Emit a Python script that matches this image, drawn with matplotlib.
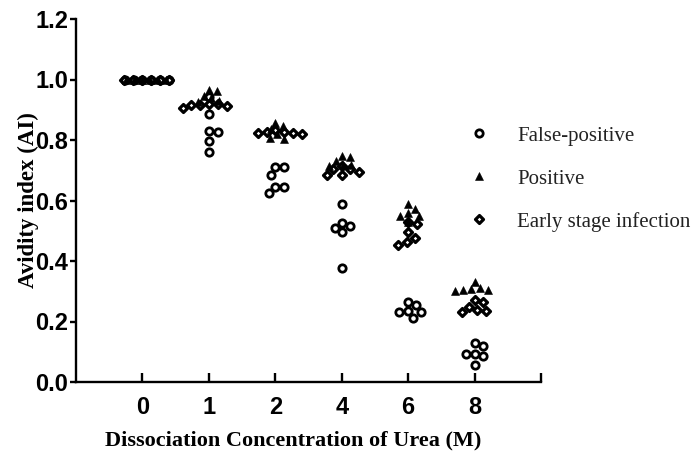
import numpy as np
import matplotlib
matplotlib.use('Agg')
import matplotlib.pyplot as plt
from matplotlib.lines import Line2D
from matplotlib.markers import MarkerStyle
from matplotlib.ticker import FormatStrFormatter

# ---------------- data ----------------
categories = ['0', '1', '2', '4', '6', '8']
false_positive = [
    [1.0, 1.0, 1.0, 1.0, 1.0, 1.0],
    [0.943, 0.886, 0.830, 0.828, 0.798, 0.760],
    [0.710, 0.685, 0.710, 0.645, 0.625, 0.645],
    [0.588, 0.526, 0.509, 0.496, 0.517, 0.377],
    [0.265, 0.255, 0.235, 0.210, 0.230, 0.230],
    [0.128, 0.120, 0.093, 0.093, 0.087, 0.056],
]
positive = [
    [1.0, 1.0, 1.0, 1.0, 1.0, 1.0],
    [0.965, 0.962, 0.945, 0.940, 0.930, 0.925],
    [0.857, 0.846, 0.835, 0.820, 0.807, 0.803],
    [0.747, 0.745, 0.730, 0.717, 0.717, 0.714],
    [0.588, 0.572, 0.559, 0.550, 0.550, 0.529],
    [0.330, 0.312, 0.307, 0.304, 0.304, 0.300],
]
early_stage = [
    [1.0, 1.0, 1.0, 1.0, 1.0, 1.0],
    [0.920, 0.919, 0.916, 0.916, 0.912, 0.905],
    [0.833, 0.826, 0.826, 0.823, 0.823, 0.820],
    [0.715, 0.704, 0.704, 0.694, 0.684, 0.684],
    [0.530, 0.522, 0.497, 0.477, 0.464, 0.453],
    [0.271, 0.265, 0.249, 0.238, 0.235, 0.230],
]
series_labels = ['False-positive', 'Positive', 'Early stage infection']
y_ticks = [0.0, 0.2, 0.4, 0.6, 0.8, 1.0, 1.2]

# ---------------- figure ----------------
W, H = 695, 455
fig = plt.figure(figsize=(W / 100, H / 100), dpi=100)
ax = fig.add_axes([76 / W, 1 - 382 / H, (541 - 76) / W, (382 - 19) / H])
ax.set_xlim(0, 7)
ax.set_ylim(0, 1.2)

positions = np.arange(1, len(categories) + 1)
fig.canvas.draw()


def swarm(values, xc, diam):
    pts = ax.transData.transform([(xc, v) for v in values])
    ys = pts[:, 1]
    ppx = ax.transData.transform([(1, 0)])[0, 0] - ax.transData.transform([(0, 0)])[0, 0]
    order = np.argsort(-np.asarray(values), kind='stable')
    placed = []
    dxs = np.zeros(len(values))
    for i in order:
        y = ys[i]
        cands = [0.0]
        for (px, py) in placed:
            dy = abs(py - y)
            if dy < diam:
                h = np.sqrt(diam ** 2 - dy ** 2)
                cands += [px + h, px - h]
        cands.sort(key=lambda c: (round(abs(c), 6), -c))
        for c in cands:
            if all((c - px) ** 2 + (y - py) ** 2 >= diam ** 2 - 1e-6 for px, py in placed):
                dxs[i] = c
                break
        placed.append((dxs[i], y))
    return xc + dxs / ppx


styles = [
    dict(marker='o', markersize=5.3, markerfacecolor='none', markeredgecolor='black',
         markeredgewidth=2.0, diam=8.8),
    dict(marker='^', markersize=5.4, markerfacecolor='black', markeredgecolor='black',
         markeredgewidth=0.4, diam=8.0),
    dict(marker=MarkerStyle('D', joinstyle='round'), markersize=3.7, markerfacecolor='none',
         markeredgecolor='black', markeredgewidth=2.3, diam=9.0),
]
all_series = [false_positive, positive, early_stage]

for data, st in zip(all_series, styles):
    st = dict(st)
    diam = st.pop('diam')
    for xc, vals in zip(positions, data):
        xs = swarm(vals, xc, diam)
        ax.plot(xs, vals, linestyle='none', clip_on=False, zorder=3, **st)

# ---------------- axes styling ----------------
for s in ['top', 'right']:
    ax.spines[s].set_visible(False)
for s in ['left', 'bottom']:
    ax.spines[s].set_linewidth(1.7)

ax.set_yticks(y_ticks)
ax.yaxis.set_major_formatter(FormatStrFormatter('%.1f'))
ax.set_xticks(list(positions) + [7])
ax.set_xticklabels(categories + [''])

for lab in ax.get_yticklabels() + ax.get_xticklabels():
    lab.set_fontfamily('Liberation Sans')
    lab.set_fontweight('bold')
    lab.set_fontsize(17)

ax.tick_params(axis='y', direction='out', length=4.5, width=1.7, pad=1)
ax.tick_params(axis='x', direction='in', length=6.5, width=1.7, pad=10)

fig.text(293 / W, 1 - 440 / H, 'Dissociation Concentration of Urea (M)',
         ha='center', va='center', family='Liberation Serif', weight='bold', fontsize=16)
fig.text(28 / W, 1 - 200 / H, 'Avidity index (AI)', rotation=90,
         ha='center', va='center', family='Liberation Serif', weight='bold', fontsize=16.5)

# ---------------- legend ----------------
handles = []
for lbl, st in zip(series_labels, styles):
    st = dict(st)
    st.pop('diam')
    handles.append(Line2D([], [], linestyle='none', **st))
leg = fig.legend(handles, series_labels, loc='upper left',
                 bbox_to_anchor=(469 / W, 1 - 126 / H), frameon=False,
                 prop=dict(family='Liberation Serif', size=15),
                 handlelength=1.0, handletextpad=1.3, labelspacing=1.12,
                 borderpad=0, borderaxespad=0)
for t in leg.get_texts():
    t.set_color('#222222')

fig.savefig('out.png', dpi=100)
